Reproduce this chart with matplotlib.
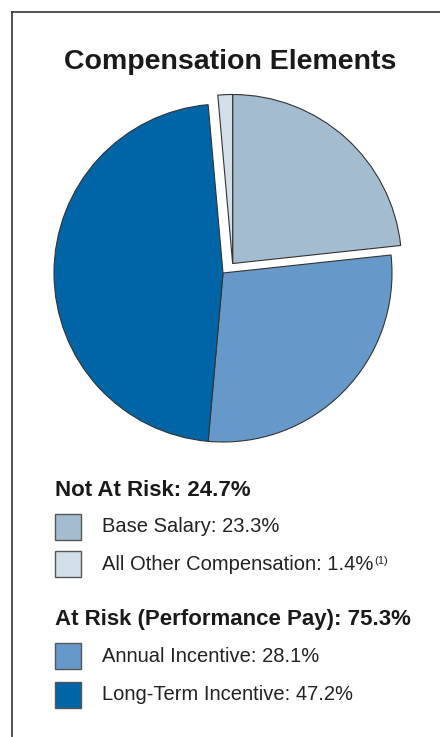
# -*- coding: utf-8 -*-
import numpy as np
import matplotlib.pyplot as plt
from matplotlib.patches import Rectangle

plt.rcParams['font.family'] = ['Liberation Sans', 'DejaVu Sans']

# data
labels = ["Base Salary", "Annual Incentive", "Long-Term Incentive", "All Other Compensation"]
values = [23.3, 28.1, 47.2, 1.4]
colors = ["#A4BCCF", "#6699CA", "#0065A7", "#D2DEE8"]
not_at_risk = [0, 3]  # exploded group
group_titles = ["Not At Risk: 24.7%", "At Risk (Performance Pay): 75.3%"]
legend_rows = [("Base Salary: 23.3%", "#A4BCCF"),
               ("All Other Compensation: 1.4%", "#D2DEE8"),
               ("Annual Incentive: 28.1%", "#6699CA"),
               ("Long-Term Incentive: 47.2%", "#0065A7")]

W, H = 440, 737
fig = plt.figure(figsize=(W / 100, H / 100), dpi=100)


def fx(px):
    return px / W


def fy(py):
    return 1 - py / H


# frame lines (top and left only)
fig.add_artist(plt.Line2D([fx(12), 1], [fy(11.5), fy(11.5)], color="#333333", lw=1.2))
fig.add_artist(plt.Line2D([fx(12), fx(12)], [fy(11.5), 0], color="#333333", lw=1.2))

fig.text(fx(230), fy(62), "Compensation Elements", fontsize=20.5, fontweight="bold",
         ha="center", va="center", color="#1A1A1A")

# pie axes: center (223, 273) px, radius 169 px
L = 1.2
S = 169 * 2 * L
ax = fig.add_axes([fx(223 - S / 2), fy(273 + S / 2), S / W, S / H])
wedges, _ = ax.pie(values, colors=colors, startangle=90, counterclock=False, radius=1,
                   wedgeprops=dict(edgecolor="#333333", linewidth=0.8))
ax.set_xlim(-L, L)
ax.set_ylim(-L, L)
ax.set_aspect("equal")
ax.axis("off")

# explode the "not at risk" slices together
t1 = min(wedges[i].theta1 % 360 for i in not_at_risk)
t2 = max(wedges[i].theta2 % 360 for i in not_at_risk)
mid = np.deg2rad((t1 + t2) / 2 - 6)
off = 0.08
for i in not_at_risk:
    wedges[i].set_center((off * np.cos(mid), off * np.sin(mid)))

# legend
fig.text(fx(55), fy(490), group_titles[0], fontsize=16, fontweight="bold",
         ha="left", va="center", color="#1A1A1A")
fig.text(fx(55), fy(619), group_titles[1], fontsize=16, fontweight="bold",
         ha="left", va="center", color="#1A1A1A")

row_y = [527, 564, 656, 695]
for (txt, col), yc in zip(legend_rows, row_y):
    fig.add_artist(Rectangle((fx(55), fy(yc + 13)), 26 / W, 26 / H, transform=fig.transFigure,
                             facecolor=col, edgecolor="#555555", lw=1.0))
    t = fig.text(fx(102), fy(yc), txt, fontsize=14.5, ha="left", va="center", color="#222222")
    if txt.startswith("All Other"):
        ax.annotate("(1)", xy=(1, 0.9), xycoords=t, xytext=(0.5, 0),
                    textcoords="offset points", fontsize=8,
                    ha="left", va="top", color="#222222", annotation_clip=False)

fig.savefig("out.png", dpi=100, facecolor="white")
